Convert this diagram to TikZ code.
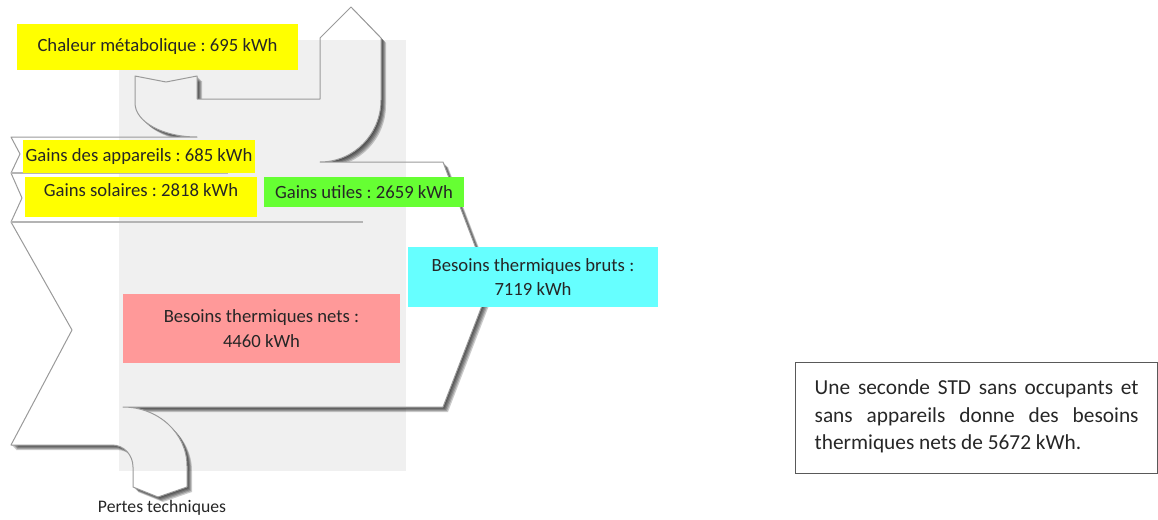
\documentclass[tikz,border=0pt]{standalone}
\usepackage{fontspec}
\setmainfont{Carlito}
\usepackage{xcolor}
\frenchspacing

\definecolor{fondgris}{HTML}{F0F0F0}
\definecolor{traitflux}{HTML}{9A9A9A}
\definecolor{traitsep}{HTML}{B4B4B4}
\definecolor{jaune}{HTML}{FFFF00}
\definecolor{vert}{HTML}{66FF33}
\definecolor{bleuclair}{HTML}{66FFFF}
\definecolor{rose}{HTML}{FF9999}
\definecolor{texte}{HTML}{262626}
\definecolor{bordnote}{HTML}{595959}

\newcommand{\flowoutline}{(11,137) -- (197,137) .. controls (163,137) and (135,122) .. (135,103)
  -- (135,76) -- (166,82) -- (197,76) -- (197,99) -- (320,99) -- (320,38) -- (351,7) -- (381,38)
  -- (381,100) .. controls (381,134) and (354,162) .. (320,162) -- (443,162) -- (490,285) -- (443,407)
  -- (123,407) .. controls (158,407) and (187,433) .. (187,466) -- (187,487) -- (158,497) -- (133,487)
  -- (133,467) .. controls (133,455) and (124,445) .. (112,445) -- (11,445) -- (72,330) -- (11,222)
  -- (22,198) -- (11,173) -- (20,154) -- cycle}

\tikzset{
  etiq/.style={fill=#1, inner sep=0pt, align=center, text=texte, font=\fontsize{11.2}{14.7}\selectfont},
  sep/.style={traitsep, line width=0.9pt},
}

\begin{document}
\begin{tikzpicture}[x=0.6pt,y=-0.6pt]
	\useasboundingbox (0,0) rectangle (1158,519);
	\fill[fondgris] (119,40) rectangle (406,471);
	\foreach \d in {1,...,5}
		\fill[black, opacity=0.2, shift={(\d,\d)}] \flowoutline;
	\fill[white] \flowoutline;
	\begin{scope}
		\clip \flowoutline;
		\fill[fondgris] (119,40) rectangle (406,471);
	\end{scope}
	\draw[traitflux, line width=0.6pt, line join=round] \flowoutline;
	\draw[sep] (11,173) -- (228,173);
	\draw[sep] (11,222) -- (363,222);

	\node[etiq=jaune, minimum width=168.6pt, minimum height=27.6pt] (chaleur) at (157.5,47) {Chaleur métabolique : 695 kWh};
	\node[etiq=jaune, minimum width=139.2pt, minimum height=19.8pt] (appareils) at (139,156.5) {Gains des appareils : 685 kWh};
	\node[etiq=jaune, minimum width=139.2pt, text height=11.4pt, text depth=12.6pt, anchor=base] (solaires) at (141,196) {Gains solaires : 2818 kWh};
	\node[etiq=vert, minimum width=120pt, minimum height=18pt] (utiles) at (364,192) {Gains utiles : 2659 kWh};
	\node[etiq=bleuclair, minimum width=150pt, minimum height=36pt] (bruts) at (533,277) {Besoins thermiques bruts :\\ 7119 kWh};
	\node[etiq=rose, minimum width=166.2pt, minimum height=41.4pt] (nets) at (261.5,328.5) {Besoins thermiques nets :\\ 4460 kWh};
	\node[etiq=none, font=\fontsize{10.6}{13}\selectfont] (pertes) at (162,508) {Pertes techniques};
	\node[draw=bordnote, line width=0.8pt, anchor=north west, text width=194.4pt, inner xsep=11.4pt, inner ysep=0pt,
		text height=19.2pt, text depth=47.4pt, align=justify, text=texte, font=\fontsize{12.8}{16.5}\selectfont]
		(note) at (795,362) {Une seconde STD sans occupants et\linebreak sans appareils donne des besoins\linebreak thermiques nets de 5672 kWh.};
\end{tikzpicture}
\end{document}
